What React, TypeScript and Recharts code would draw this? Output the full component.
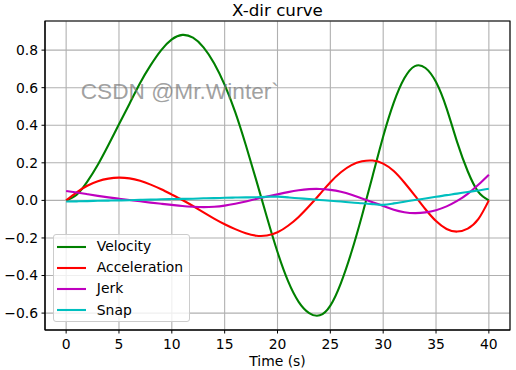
import {
    CartesianGrid,
    Label,
    Legend,
    Line,
    LineChart,
    ReferenceArea,
    XAxis,
    YAxis,
} from 'recharts';

// time axis, one sample per second
const TIME = [
    0, 1, 2, 3, 4, 5, 6, 7, 8, 9, 10, 11, 12, 13, 14, 15, 16, 17, 18, 19, 20,
    21, 22, 23, 24, 25, 26, 27, 28, 29, 30, 31, 32, 33, 34, 35, 36, 37, 38, 39, 40,
];

const VELOCITY = [
    0, 0.03, 0.1, 0.19, 0.295, 0.405, 0.515, 0.625, 0.72, 0.8, 0.857, 0.881,
    0.866, 0.815, 0.73, 0.615, 0.47, 0.295, 0.105, -0.09, -0.275, -0.43, -0.54,
    -0.6, -0.612, -0.56, -0.44, -0.275, -0.08, 0.13, 0.34, 0.52, 0.65, 0.715,
    0.705, 0.63, 0.49, 0.31, 0.155, 0.045, 0,
];

const ACCELERATION = [
    0, 0.043, 0.078, 0.102, 0.116, 0.121, 0.117, 0.104, 0.084, 0.059, 0.031,
    0.002, -0.03, -0.064, -0.097, -0.127, -0.153, -0.175, -0.188, -0.187, -0.17,
    -0.135, -0.088, -0.03, 0.033, 0.097, 0.15, 0.188, 0.208, 0.212, 0.196, 0.156,
    0.095, 0.025, -0.047, -0.11, -0.152, -0.166, -0.15, -0.1, 0,
];

const JERK = [
    0.05, 0.042, 0.033, 0.024, 0.016, 0.009, 0.002, -0.005, -0.012, -0.018,
    -0.024, -0.03, -0.034, -0.036, -0.034, -0.028, -0.018, -0.006, 0.008, 0.02,
    0.032, 0.044, 0.054, 0.06, 0.061, 0.056, 0.046, 0.03, 0.01, -0.01, -0.03,
    -0.05, -0.063, -0.068, -0.064, -0.052, -0.032, -0.003, 0.035, 0.083, 0.137,
];

const SNAP = [
    -0.006, -0.005, -0.004, -0.002, -0.001, 0, 0.001, 0.003, 0.004, 0.006,
    0.007, 0.008, 0.009, 0.011, 0.012, 0.014, 0.015, 0.016, 0.017, 0.019, 0.02,
    0.016, 0.011, 0.007, 0.002, -0.002, -0.006, -0.011, -0.015, -0.02, -0.024,
    -0.016, -0.007, 0.002, 0.01, 0.019, 0.028, 0.036, 0.045, 0.053, 0.062,
];

const X_TICKS = [0, 5, 10, 15, 20, 25, 30, 35, 40];
const Y_TICKS = [-0.6, -0.4, -0.2, 0, 0.2, 0.4, 0.6, 0.8];

const SERIES = [
    { key: 'Velocity', color: '#008000' },
    { key: 'Acceleration', color: '#ff0000' },
    { key: 'Jerk', color: '#bf00bf' },
    { key: 'Snap', color: '#00bfbf' },
];

const FONT = '"DejaVu Sans", sans-serif';

const rows = TIME.map((t, i) => ({
    t,
    Velocity: VELOCITY[i],
    Acceleration: ACCELERATION[i],
    Jerk: JERK[i],
    Snap: SNAP[i],
}));

const fmtY = (v: number) =>
    v < 0 ? '\u2212' + Math.abs(v).toFixed(1) : v.toFixed(1);

const order = (name: string) => SERIES.findIndex((s) => s.key === name);

// eslint-disable-next-line @typescript-eslint/no-explicit-any
const LegendBox = ({ payload }: any) => {
    const items = [...(payload || [])].sort(
        (a, b) => order(a.value) - order(b.value)
    );
    return (
        <div
            style={{
                boxSizing: 'border-box',
                width: 137,
                height: 88,
                border: '1px solid #cccccc',
                borderRadius: 3,
                background: 'rgba(255,255,255,0.8)',
                paddingTop: 1,
                fontFamily: FONT,
                fontSize: 13.9,
                color: '#000',
            }}
        >
            {items.map((p: any) => (
                <div
                    key={p.value}
                    style={{ height: 21.2, display: 'flex', alignItems: 'center' }}
                >
                    <svg width={29} height={4} style={{ marginLeft: 3.6 }}>
                        <line x1={0} y1={2} x2={29} y2={2} stroke={p.color} strokeWidth={2.1} />
                    </svg>
                    <span style={{ marginLeft: 10.5, lineHeight: 1 }}>{p.value}</span>
                </div>
            ))}
        </div>
    );
};

const App = () => {
    const tickStyle = { fill: '#000', fontSize: 13.9, fontFamily: FONT };

    return (
        <div
            style={{
                position: 'absolute',
                left: 0,
                top: 0,
                width: 516,
                height: 370,
                background: '#fff',
                fontFamily: FONT,
            }}
        >
            <LineChart
                width={516}
                height={370}
                data={rows}
                margin={{ top: 21, right: 6, bottom: 10, left: 0 }}
            >
                <CartesianGrid stroke="#b0b0b0" strokeWidth={1.1} />
                <XAxis
                    dataKey="t"
                    type="number"
                    domain={[-2, 42]}
                    ticks={X_TICKS}
                    interval={0}
                    allowDataOverflow
                    stroke="#000"
                    tickSize={3.5}
                    tickMargin={6}
                    tick={tickStyle}
                    height={30}
                >
                    <Label
                        value="Time (s)"
                        position="bottom"
                        offset={-3.5}
                        style={{ fill: '#000', fontSize: 13.9, fontFamily: FONT }}
                    />
                </XAxis>
                <YAxis
                    type="number"
                    domain={[-0.69, 0.955]}
                    ticks={Y_TICKS}
                    interval={0}
                    allowDataOverflow
                    stroke="#000"
                    tickSize={3.5}
                    tickMargin={3.5}
                    tick={tickStyle}
                    tickFormatter={fmtY}
                    width={45}
                />
                {SERIES.map((s) => (
                    <Line
                        key={s.key}
                        dataKey={s.key}
                        name={s.key}
                        type="natural"
                        stroke={s.color}
                        strokeWidth={2.1}
                        dot={false}
                        isAnimationActive={false}
                    />
                ))}
                <ReferenceArea
                    x1={-2}
                    x2={42}
                    y1={-0.69}
                    y2={0.955}
                    fill="none"
                    fillOpacity={0}
                    stroke="#000"
                    strokeWidth={1.1}
                    ifOverflow="visible"
                />
                <Legend
                    layout="vertical"
                    align="center"
                    verticalAlign="middle"
                    content={<LegendBox />}
                    wrapperStyle={{ left: 52.7, top: 234.3, width: 137, height: 88 }}
                />
            </LineChart>
            <div
                style={{
                    position: 'absolute',
                    left: 45,
                    width: 465,
                    top: 1.5,
                    lineHeight: '16.7px',
                    textAlign: 'center',
                    fontSize: 16.7,
                    color: '#000',
                    whiteSpace: 'nowrap',
                }}
            >
                X-dir curve
            </div>
            <div
                style={{
                    position: 'absolute',
                    left: 80.7,
                    top: 77.8,
                    fontFamily: '"Liberation Sans", Arial, sans-serif',
                    fontSize: 22.7,
                    color: 'rgba(120,120,120,0.7)',
                    whiteSpace: 'nowrap',
                    pointerEvents: 'none',
                }}
            >
                CSDN @Mr.Winter`
            </div>
        </div>
    );
};

export default App;
